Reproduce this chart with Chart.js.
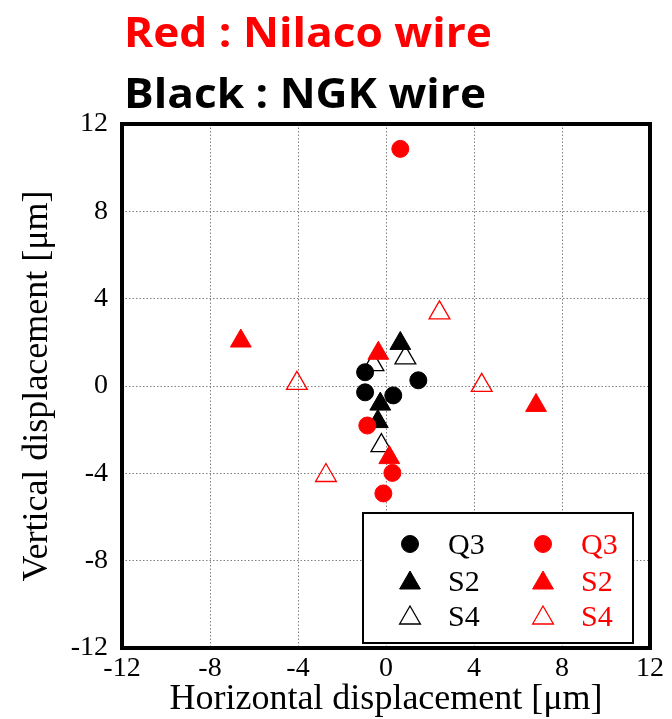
<!DOCTYPE html>
<html>
<head>
<meta charset="utf-8">
<script src="https://cdn.jsdelivr.net/npm/chart.js@4.4.1/dist/chart.umd.min.js"></script>
<style>
  html, body { margin: 0; padding: 0; background: #fff; }
  #wrap { width: 672px; height: 719px; }
</style>
</head>
<body>
<div id="wrap"><canvas id="chart" width="672" height="719"></canvas></div>
<script>
// NGK wire (black) and Nilaco wire (red) displacement points [x, y] in um
const ngkQ3 = [[-0.95, 0.63], [-0.95, -0.29], [0.33, -0.43], [1.47, 0.26]];
const ngkS2 = [[0.65, 1.95], [-0.26, -0.83], [-0.37, -1.63]];
const ngkS4 = [[0.88, 1.29], [-0.57, 0.98], [-0.21, -2.73]];
const nilacoQ3 = [[0.65, 10.86], [-0.85, -1.81], [0.29, -3.98], [-0.12, -4.92]];
const nilacoS2 = [[-6.6, 2.06], [-0.35, 1.5], [0.15, -3.28], [6.82, -0.89]];
const nilacoS4 = [[2.43, 3.35], [-4.05, 0.12], [4.35, 0.03], [-2.73, -4.1]];
const axisTicks = [-12, -8, -4, 0, 4, 8, 12];

const SERIF = '"Liberation Serif", "Times New Roman", serif';

function toPoints(arr) {
    return arr.map(p => ({ x: p[0], y: p[1] }));
}

function makeSet(label, arr, color, style, open, order) {
    const isCircle = style === 'circle';
    return {
        label: label,
        data: toPoints(arr),
        pointStyle: style,
        pointRadius: isCircle ? 8.5 : 12,
        pointHoverRadius: isCircle ? 8.5 : 12,
        borderColor: color,
        backgroundColor: open ? 'rgba(0,0,0,0)' : color,
        pointBorderWidth: open ? 1.3 : 1,
        borderWidth: open ? 1.3 : 1,
        showLine: false,
        order: order
    };
}

const datasets = [
    makeSet('Q3', ngkQ3, '#000000', 'circle', false, 1),
    makeSet('S2', ngkS2, '#000000', 'triangle', false, 1),
    makeSet('S4', ngkS4, '#000000', 'triangle', true, 1),
    makeSet('Q3', nilacoQ3, '#ff0000', 'circle', false, 0),
    makeSet('S2', nilacoS2, '#ff0000', 'triangle', false, 0),
    makeSet('S4', nilacoS4, '#ff0000', 'triangle', true, 0)
];

function drawMarker(ctx, ds, x, y) {
    const r = ds.pointRadius;
    ctx.save();
    ctx.lineWidth = ds.pointBorderWidth;
    ctx.strokeStyle = ds.borderColor;
    ctx.fillStyle = ds.backgroundColor;
    ctx.beginPath();
    if (ds.pointStyle === 'circle') {
        ctx.arc(x, y, r, 0, Math.PI * 2);
    } else {
        for (let i = 0; i < 3; i++) {
            const a = i * 2 * Math.PI / 3;
            const px = x + Math.sin(a) * r;
            const py = y - Math.cos(a) * r;
            if (i === 0) ctx.moveTo(px, py); else ctx.lineTo(px, py);
        }
        ctx.closePath();
    }
    ctx.fill();
    ctx.stroke();
    ctx.restore();
}

const framePlugin = {
    id: 'frame',
    beforeDatasetsDraw(chart) {
        const { ctx, chartArea: a } = chart;
        ctx.save();
        ctx.lineWidth = 4;
        ctx.strokeStyle = '#000';
        ctx.strokeRect(a.left, a.top, a.right - a.left, a.bottom - a.top);
        ctx.restore();
    }
};

const legendBoxPlugin = {
    id: 'legendBox',
    afterDatasetsDraw(chart) {
        const { ctx, chartArea: a } = chart;
        const boxL = a.left + 241, boxT = a.top + 389;
        const boxW = 270, boxH = 130;
        ctx.save();
        ctx.fillStyle = '#fff';
        ctx.fillRect(boxL, boxT, boxW, boxH);
        ctx.lineWidth = 2;
        ctx.strokeStyle = '#000';
        ctx.strokeRect(boxL, boxT, boxW, boxH);
        ctx.font = '30px ' + SERIF;
        ctx.textBaseline = 'middle';
        ctx.textAlign = 'left';
        const rows = [boxT + 31, boxT + 68, boxT + 103];
        const cols = [
            { marker: boxL + 47, text: boxL + 85 },
            { marker: boxL + 180, text: boxL + 218 }
        ];
        chart.data.datasets.forEach((ds, i) => {
            const col = cols[Math.floor(i / 3)];
            const row = rows[i % 3];
            const my = ds.pointStyle === 'circle' ? row : row + 2;
            drawMarker(ctx, ds, col.marker, my);
            ctx.fillStyle = ds.borderColor;
            ctx.fillText(ds.label, col.text, row + 2);
        });
        ctx.restore();
    }
};

const headingPlugin = {
    id: 'heading',
    afterDraw(chart) {
        const { ctx } = chart;
        const lines = [
            { text: 'Red : Nilaco wire', color: '#ff0000', y: 47, width: 368 },
            { text: 'Black : NGK wire', color: '#000000', y: 108, width: 362 }
        ];
        ctx.save();
        ctx.font = 'bold 42px "Open Sans", "Noto Sans", sans-serif';
        ctx.textBaseline = 'alphabetic';
        lines.forEach(l => {
            const w = ctx.measureText(l.text).width;
            ctx.save();
            ctx.translate(124, l.y);
            ctx.scale(l.width / w, 1);
            ctx.fillStyle = l.color;
            ctx.fillText(l.text, 0, 0);
            ctx.restore();
        });
        ctx.restore();
    }
};

const gridOpts = {
    color: '#808080',
    lineWidth: 1,
    drawTicks: false
};

new Chart(document.getElementById('chart'), {
    type: 'scatter',
    data: { datasets: datasets },
    options: {
        responsive: false,
        animation: false,
        devicePixelRatio: 1,
        layout: { padding: { top: 124, right: 22, left: 0, bottom: 0 } },
        plugins: {
            legend: { display: false },
            tooltip: { enabled: false }
        },
        scales: {
            x: {
                type: 'linear',
                min: axisTicks[0],
                max: axisTicks[axisTicks.length - 1],
                afterBuildTicks: s => { s.ticks = axisTicks.map(v => ({ value: v })); },
                afterFit: s => { s.height = 71; },
                grid: gridOpts,
                border: { display: false, dash: [1.5, 2] },
                ticks: {
                    color: '#000',
                    padding: 4,
                    font: { family: SERIF, size: 28 },
                    maxRotation: 0
                },
                title: {
                    display: true,
                    text: 'Horizontal displacement [\u03bcm]',
                    color: '#000',
                    font: { family: SERIF, size: 36, lineHeight: 1 },
                    padding: { top: 0, bottom: 1 }
                }
            },
            y: {
                type: 'linear',
                min: axisTicks[0],
                max: axisTicks[axisTicks.length - 1],
                afterBuildTicks: s => { s.ticks = axisTicks.map(v => ({ value: v })); },
                afterFit: s => { s.width = 122; },
                grid: gridOpts,
                border: { display: false, dash: [1.5, 2] },
                ticks: {
                    color: '#000',
                    padding: 14,
                    font: { family: SERIF, size: 28 }
                },
                title: {
                    display: true,
                    text: 'Vertical displacement [\u03bcm]',
                    color: '#000',
                    font: { family: SERIF, size: 36, lineHeight: 1 },
                    padding: { top: 20, bottom: 0 }
                }
            }
        }
    },
    plugins: [framePlugin, legendBoxPlugin, headingPlugin]
});
</script>
</body>
</html>
